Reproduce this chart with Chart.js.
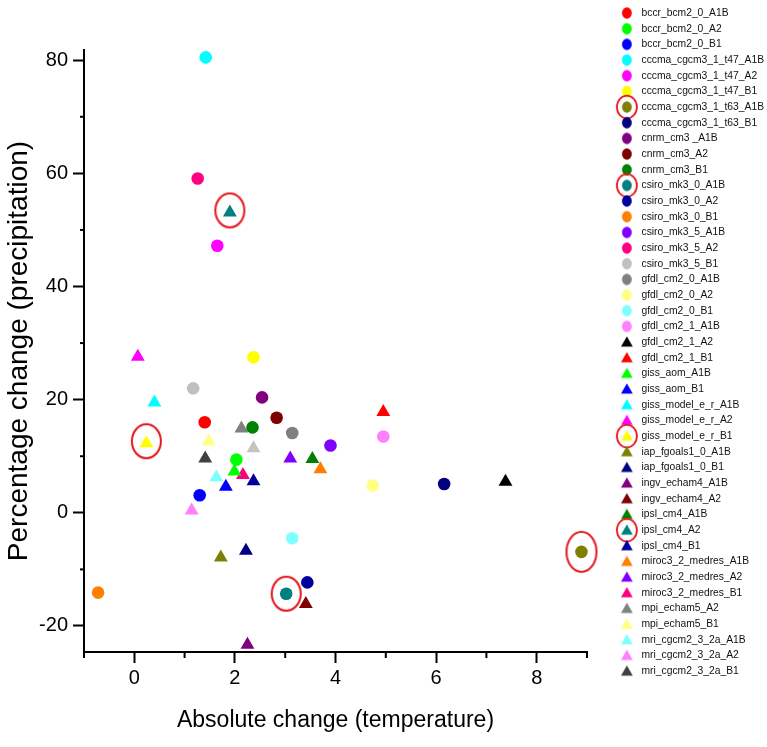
<!DOCTYPE html>
<html><head><meta charset="utf-8">
<script src="https://cdn.jsdelivr.net/npm/chart.js@4"></script>
<style>html,body{margin:0;padding:0;background:#fff;}canvas{display:block;}</style>
</head><body>
<canvas id="c" width="767" height="747" style="width:767px;height:747px"></canvas>
<script>
// ---------------- data ----------------
const seriesNames = [
 'bccr_bcm2_0_A1B','bccr_bcm2_0_A2','bccr_bcm2_0_B1',
 'cccma_cgcm3_1_t47_A1B','cccma_cgcm3_1_t47_A2','cccma_cgcm3_1_t47_B1',
 'cccma_cgcm3_1_t63_A1B','cccma_cgcm3_1_t63_B1',
 'cnrm_cm3 _A1B','cnrm_cm3_A2','cnrm_cm3_B1',
 'csiro_mk3_0_A1B','csiro_mk3_0_A2','csiro_mk3_0_B1',
 'csiro_mk3_5_A1B','csiro_mk3_5_A2','csiro_mk3_5_B1',
 'gfdl_cm2_0_A1B','gfdl_cm2_0_A2','gfdl_cm2_0_B1',
 'gfdl_cm2_1_A1B','gfdl_cm2_1_A2','gfdl_cm2_1_B1',
 'giss_aom_A1B','giss_aom_B1',
 'giss_model_e_r_A1B','giss_model_e_r_A2','giss_model_e_r_B1',
 'iap_fgoals1_0_A1B','iap_fgoals1_0_B1',
 'ingv_echam4_A1B','ingv_echam4_A2',
 'ipsl_cm4_A1B','ipsl_cm4_A2','ipsl_cm4_B1',
 'miroc3_2_medres_A1B','miroc3_2_medres_A2','miroc3_2_medres_B1',
 'mpi_echam5_A2','mpi_echam5_B1',
 'mri_cgcm2_3_2a_A1B','mri_cgcm2_3_2a_A2','mri_cgcm2_3_2a_B1'
];
const tempChange = [
 1.40, 2.03, 1.30,
 1.42, 1.65, 2.37,
 8.89, 6.16,
 2.54, 2.83, 2.35,
 3.02, 3.44, -0.72,
 3.90, 1.26, 1.17,
 3.14, 4.74, 3.14,
 4.95, 7.38, 4.95,
 1.99, 1.82,
 0.40, 0.07, 0.24,
 1.72, 2.22,
 2.25, 3.41,
 3.54, 1.90, 2.37,
 3.70, 3.10, 2.16,
 2.13, 1.48,
 1.63, 1.14, 1.41
];
const precipChange = [
 16.0, 9.4, 3.1,
 80.5, 47.2, 27.5,
 -6.9, 5.1,
 20.4, 16.8, 15.1,
 -14.3, -12.3, -14.1,
 11.9, 59.1, 22.0,
 14.1, 4.8, -4.5,
 13.5, 5.5, 17.8,
 7.3, 4.6,
 19.5, 27.6, 12.3,
 -7.9, -6.7,
 -23.3, -16.1,
 9.5, 53.1, 5.6,
 7.7, 9.6, 6.7,
 14.9, 12.6,
 6.3, 0.4, 9.6
];
// an additional unlabelled light-grey triangle visible in the plot
const extraTemp = [2.37];
const extraPrecip = [11.4];
const highlighted = ['cccma_cgcm3_1_t63_A1B','csiro_mk3_0_A1B','giss_model_e_r_B1','ipsl_cm4_A2'];
const xTickValues = [-1,0,1,2,3,4,5,6,7,8,9];
const xTickLabels = ['0','2','4','6','8'];
const yTickValues = [-20,-10,0,10,20,30,40,50,60,70,80];
const yTickLabels = ['-20','0','20','40','60','80'];

// ---------------- styles ----------------
const seriesColors = [
 '#ff0000','#00ff00','#0000ff',
 '#00ffff','#ff00ff','#ffff00',
 '#808000','#000080',
 '#800080','#800000','#008000',
 '#008080','#00009c','#ff8000',
 '#8000ff','#ff0080','#c0c0c0',
 '#808080','#ffff80','#80ffff',
 '#ff80ff','#000000','#ff0000',
 '#00ff00','#0000ff',
 '#00ffff','#ff00ff','#ffff00',
 '#808000','#000080',
 '#800080','#800000',
 '#008000','#008080','#0000a0',
 '#ff8000','#8000ff','#ff0080',
 '#808080','#ffff80',
 '#80ffff','#ff80ff','#404040'
];
const seriesShapes = seriesNames.map((n, i) => i < 21 ? 'circle' : 'triangle');
const FONT = "'Liberation Sans', Arial, sans-serif";
const RING = '#e4161c';

function legendIcon(shape, color, ring) {
  const c = document.createElement('canvas');
  c.width = 26; c.height = 26;
  const g = c.getContext('2d');
  const cx = 13, cy = 13;
  g.fillStyle = color;
  g.beginPath();
  if (shape === 'circle') g.ellipse(cx, cy, 4.9, 5.7, 0, 0, Math.PI * 2);
  else { g.moveTo(cx, cy - 5.8); g.lineTo(cx + 5.9, cy + 4.6); g.lineTo(cx - 5.9, cy + 4.6); g.closePath(); }
  g.fill();
  if (ring) {
    g.strokeStyle = RING; g.lineWidth = 1.8;
    g.beginPath(); g.ellipse(cx, cy, 10, 11.3, 0, 0, Math.PI * 2); g.stroke();
  }
  return c;
}
function ringImage(w, h) {
  const c = document.createElement('canvas');
  c.width = w + 4; c.height = h + 4;
  const g = c.getContext('2d');
  g.strokeStyle = RING; g.lineWidth = 2;
  g.beginPath(); g.ellipse(c.width / 2, c.height / 2, w / 2, h / 2, 0, 0, Math.PI * 2); g.stroke();
  return c;
}

const datasets = seriesNames.map((name, i) => ({
  label: name,
  data: [{x: tempChange[i], y: precipChange[i]}],
  pointStyle: seriesShapes[i],
  pointRadius: seriesShapes[i] === 'circle' ? 6.3 : 8,
  backgroundColor: seriesColors[i],
  borderColor: seriesColors[i],
  borderWidth: 0,
  clip: false,
  yAxisID: 'y'
}));
datasets.push({
  label: '_extra',
  data: extraTemp.map((x, i) => ({x, y: extraPrecip[i]})),
  pointStyle: 'triangle', pointRadius: 8,
  backgroundColor: '#c4c4c4', borderColor: '#c4c4c4', borderWidth: 0, clip: false, yAxisID: 'y'
});
const hiIdx = highlighted.map(n => seriesNames.indexOf(n));
const ringImgs = hiIdx.map(i => seriesShapes[i] === 'circle' && tempChange[i] > 8 ? ringImage(30, 40) : ringImage(29, 34));
datasets.push({
  label: '_rings',
  order: -1,
  clip: false,
  data: hiIdx.map(i => ({x: tempChange[i], y: precipChange[i] + (seriesShapes[i] === 'triangle' ? 0.35 : 0)})),
  pointStyle: ctx => ringImgs[ctx.dataIndex],
  pointRadius: 15,
  backgroundColor: 'rgba(0,0,0,0)', borderColor: RING, borderWidth: 0, yAxisID: 'y'
});

const layoutFix = {
  id: 'layoutFix',
  beforeUpdate(chart) {
    const lg = chart.legend;
    if (lg && !lg._wrapped) {
      const orig = lg.fit.bind(lg);
      lg.fit = function () { orig(); this.width = 155; };
      lg._wrapped = true;
    }
  },
  afterLayout(chart) {
    const lg = chart.legend;
    lg.top = 2.5; lg.bottom = 747; lg.height = 744.5;
  },
  afterDraw(chart) {
    const ctx = chart.ctx, xs = chart.scales.x, ys = chart.scales.y;
    ctx.save();
    ctx.strokeStyle = '#000'; ctx.lineWidth = 2;
    xTickValues.filter(v => v % 2 !== 0).forEach(v => {
      const px = xs.getPixelForValue(v);
      ctx.beginPath(); ctx.moveTo(px, ys.bottom); ctx.lineTo(px, ys.bottom + 6); ctx.stroke();
    });
    yTickValues.filter(v => v % 20 !== 0).forEach(v => {
      const py = ys.getPixelForValue(v);
      ctx.beginPath(); ctx.moveTo(xs.left, py); ctx.lineTo(xs.left - 4, py); ctx.stroke();
    });
    ctx.restore();
  }
};

new Chart(document.getElementById('c'), {
  type: 'scatter',
  data: {datasets},
  plugins: [layoutFix],
  options: {
    responsive: false,
    animation: false,
    events: [],
    devicePixelRatio: 1,
    layout: {padding: {top: 50, left: 0, right: 0, bottom: 0}},
    scales: {
      x: {
        type: 'linear', position: 'bottom', min: -1, max: 9,
        afterBuildTicks: s => { s.ticks = xTickValues.map(v => ({value: v})); },
        afterFit: s => { s.height = 95; },
        ticks: {
          autoSkip: false, maxRotation: 0, padding: 3,
          color: '#000', font: {family: FONT, size: 20},
          callback: v => { const k = xTickLabels.indexOf(String(v)); return k >= 0 ? xTickLabels[k] : ''; }
        },
        grid: {
          drawOnChartArea: false, drawTicks: true, tickLength: 11,
          tickWidth: 2,
          tickColor: c => (c.tick && c.tick.value % 2 === 0) ? '#000' : 'rgba(0,0,0,0)'
        },
        border: {display: true, color: '#000', width: 2},
        title: {display: true, text: 'Absolute change (temperature)', color: '#000',
                font: {family: FONT, size: 23}, padding: {top: 0, bottom: 13}}
      },
      y: {
        type: 'linear', position: 'left', min: -24.6, max: 81.8,
        afterBuildTicks: s => { s.ticks = yTickValues.map(v => ({value: v})); },
        afterFit: s => { s.width = 84; },
        ticks: {
          autoSkip: false, padding: 5,
          color: '#000', font: {family: FONT, size: 20},
          callback: v => { const k = yTickLabels.indexOf(String(v)); return k >= 0 ? yTickLabels[k] : ''; }
        },
        grid: {
          drawOnChartArea: false, drawTicks: true, tickLength: 11,
          tickWidth: 2,
          tickColor: c => (c.tick && c.tick.value % 20 === 0) ? '#000' : 'rgba(0,0,0,0)'
        },
        border: {display: true, color: '#000', width: 2},
        title: {display: true, text: 'Percentage change (precipitation)', color: '#000',
                font: {family: FONT, size: 28}, padding: {top: 2, bottom: 0}}
      },
      y2: {
        type: 'linear', position: 'right', display: true,
        grid: {display: false}, border: {display: false}, ticks: {display: false},
        afterFit: s => { s.width = 25; }
      }
    },
    plugins: {
      tooltip: {enabled: false},
      legend: {
        display: true, position: 'right', align: 'start',
        labels: {
          usePointStyle: true, pointStyleWidth: 19, boxHeight: 8,
          padding: 5.37, color: '#111',
          font: {family: FONT, size: 10.3},
          generateLabels: () => seriesNames.map((n, i) => ({
            text: n,
            fillStyle: seriesColors[i], strokeStyle: seriesColors[i], lineWidth: 0,
            pointStyle: legendIcon(seriesShapes[i], seriesColors[i], highlighted.includes(n)),
            hidden: false, datasetIndex: i, fontColor: '#111'
          }))
        }
      }
    }
  }
});
</script>
</body></html>
